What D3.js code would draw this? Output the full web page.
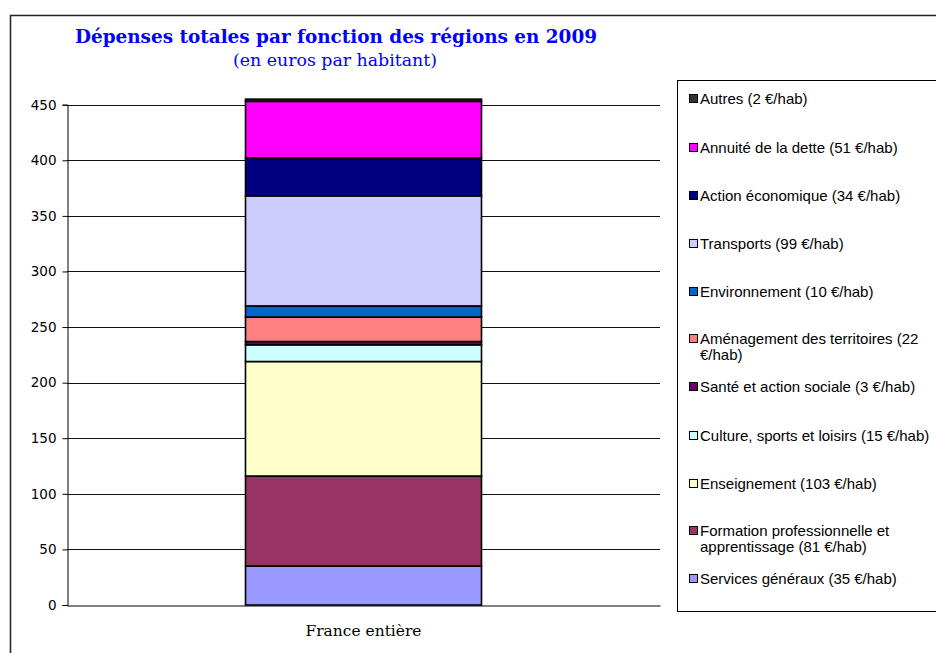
<!DOCTYPE html>
<html>
<head>
<meta charset="utf-8">
<script src="https://cdn.jsdelivr.net/npm/d3@7"></script>
<style>
  body { margin: 0; background: #fff; }
</style>
</head>
<body>
<svg id="chart" width="936" height="653"></svg>
<script>
// data, bottom of the stack first
var categories = ["France entière"];
var series = ["Services généraux", "Formation professionnelle et apprentissage", "Enseignement",
    "Culture, sports et loisirs", "Santé et action sociale", "Aménagement des territoires",
    "Environnement", "Transports", "Action économique", "Annuité de la dette", "Autres"];
var values = [35, 81, 103, 15, 3, 22, 10, 99, 34, 51, 2];
var colors = ["#9999ff", "#993366", "#ffffcc", "#ccffff", "#660066", "#ff8080",
    "#0066cc", "#ccccff", "#000080", "#ff00ff", "#333333"];
// legend lines (wrapped like in the original)
var legendLines = [
    ["Services généraux (35 €/hab)"],
    ["Formation professionnelle et", "apprentissage (81 €/hab)"],
    ["Enseignement (103 €/hab)"],
    ["Culture, sports et loisirs (15 €/hab)"],
    ["Santé et action sociale (3 €/hab)"],
    ["Aménagement des territoires (22", "€/hab)"],
    ["Environnement (10 €/hab)"],
    ["Transports (99 €/hab)"],
    ["Action économique (34 €/hab)"],
    ["Annuité de la dette (51 €/hab)"],
    ["Autres (2 €/hab)"]
];
var yTicks = [0, 50, 100, 150, 200, 250, 300, 350, 400, 450];

var svg = d3.select("#chart");

// outer chart frame
svg.append("rect")
    .attr("x", 10.5).attr("y", 15.5)
    .attr("width", 940).attr("height", 660)
    .attr("fill", "none").attr("stroke", "#222").attr("stroke-width", 1.5);

// titles
svg.append("text")
    .attr("x", 336).attr("y", 43)
    .attr("text-anchor", "middle")
    .attr("font-family", "DejaVu Serif").attr("font-weight", "bold").attr("font-size", 18)
    .attr("textLength", 522).attr("lengthAdjust", "spacingAndGlyphs")
    .attr("fill", "#0000ff")
    .text("Dépenses totales par fonction des régions en 2009");
svg.append("text")
    .attr("x", 335).attr("y", 66)
    .attr("text-anchor", "middle")
    .attr("font-family", "DejaVu Serif").attr("font-size", 16.5)
    .attr("textLength", 204).attr("lengthAdjust", "spacingAndGlyphs")
    .attr("fill", "#0000ff")
    .text("(en euros par habitant)");

var plot = { left: 67, right: 660, top: 104.7, bottom: 605 };

var y = d3.scaleLinear().domain([0, 450]).range([plot.bottom, plot.top]);
var x = d3.scaleBand().domain(categories).range([plot.left, plot.right]).paddingInner(0).paddingOuter(0);

// gridlines
svg.append("g").selectAll("line")
    .data(yTicks.filter(function (d) { return d > 0; }))
    .enter().append("line")
    .attr("x1", plot.left).attr("x2", plot.right)
    .attr("y1", function (d) { return Math.round(y(d)) + 0.5; })
    .attr("y2", function (d) { return Math.round(y(d)) + 0.5; })
    .attr("stroke", "#111").attr("stroke-width", 1);

// y axis
var yAxis = svg.append("g")
    .attr("transform", "translate(" + (plot.left + 0.5) + ",0)")
    .call(d3.axisLeft(y).tickValues(yTicks).tickSize(5).tickPadding(6));
yAxis.select(".domain").attr("stroke", "#000");
yAxis.selectAll(".tick line").attr("stroke", "#000");
yAxis.selectAll("text")
    .attr("font-family", "DejaVu Sans").attr("font-size", 13.5).attr("fill", "#000");

// stacked bar
var rows = [{ cat: categories[0] }];
series.forEach(function (s, i) { rows[0][s] = values[i]; });
var stacked = d3.stack().keys(series)(rows);

var bw = 236;
svg.append("g").selectAll("rect")
    .data(stacked)
    .enter().append("rect")
    .attr("x", function (d) { return x(d[0].data.cat) + x.bandwidth() / 2 - bw / 2; })
    .attr("y", function (d) { return y(d[0][1]); })
    .attr("width", bw)
    .attr("height", function (d) { return y(d[0][0]) - y(d[0][1]); })
    .attr("fill", function (d, i) { return colors[i]; })
    .attr("stroke", "#000").attr("stroke-width", 1.6);

// x axis
var xAxis = svg.append("g")
    .attr("transform", "translate(0," + (Math.round(plot.bottom) + 0.5) + ")")
    .call(d3.axisBottom(x).tickSize(0).tickPadding(20));
xAxis.select(".domain").attr("stroke", "#000");
xAxis.selectAll("text")
    .attr("font-family", "DejaVu Serif").attr("font-size", 14.5).attr("fill", "#000")
    .attr("textLength", 116).attr("lengthAdjust", "spacingAndGlyphs");

// legend
var legend = svg.append("g");
legend.append("rect")
    .attr("x", 677.5).attr("y", 80.5)
    .attr("width", 270).attr("height", 531)
    .attr("fill", "#fff").attr("stroke", "#000").attr("stroke-width", 1);

var legendY = [584, 536, 489, 441, 392, 344, 297, 249, 201, 153, 104];
var item = legend.selectAll("g.item")
    .data(series)
    .enter().append("g").attr("class", "item")
    .attr("transform", function (d, i) { return "translate(689," + legendY[i] + ")"; });
item.append("rect")
    .attr("x", 0.5).attr("y", -9.5).attr("width", 8).attr("height", 8)
    .attr("fill", function (d, i) { return colors[i]; })
    .attr("stroke", "#000").attr("stroke-width", 1);
item.each(function (d, i) {
    var t = d3.select(this).append("text")
        .attr("x", 11).attr("y", 0)
        .attr("font-family", "Liberation Sans").attr("font-size", 15).attr("fill", "#000");
    legendLines[i].forEach(function (line, j) {
        t.append("tspan").attr("x", 11).attr("dy", j === 0 ? 0 : 16).text(line);
    });
});
</script>
</body>
</html>
